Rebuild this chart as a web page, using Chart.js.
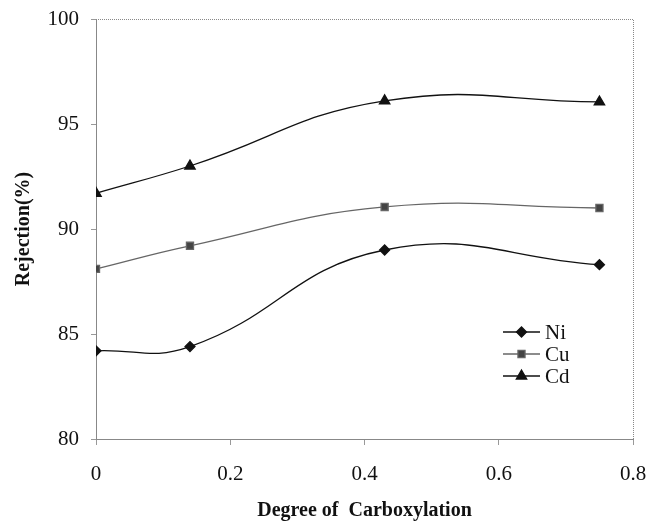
<!DOCTYPE html>
<html>
<head>
<meta charset="utf-8">
<script src="https://cdn.jsdelivr.net/npm/chart.js@4/dist/chart.umd.min.js"></script>
<style>
  html, body { margin: 0; padding: 0; background: #fff; }
  #wrap { width: 650px; height: 523px; }
</style>
</head>
<body>
<div id="wrap"><canvas id="chart" width="650" height="523"></canvas></div>
<script>
const carboxylation = [0, 0.14, 0.43, 0.75];
const niValues = [84.2, 84.4, 89.0, 88.3];
const cuValues = [88.1, 89.2, 91.05, 91.0];
const cdValues = [91.7, 93.0, 96.1, 96.05];
const xTicks = [0, 0.2, 0.4, 0.6, 0.8];
const yTicks = [80, 85, 90, 95, 100];

const serif = '"Liberation Serif", "Times New Roman", serif';

function toPoints(values) {
    return carboxylation.map((x, i) => ({ x: x, y: values[i] }));
}

// dotted frame round the plot + legend inside the plot area
const framePlugin = {
    id: 'frame',
    afterDraw(chart) {
        const ctx = chart.ctx;
        const a = chart.chartArea;
        ctx.save();
        ctx.strokeStyle = '#888';
        ctx.lineWidth = 1;
        ctx.setLineDash([1, 1]);
        ctx.beginPath();
        ctx.moveTo(a.left, a.top + 0.5);
        ctx.lineTo(a.right + 0.5, a.top + 0.5);
        ctx.lineTo(a.right + 0.5, a.bottom);
        ctx.stroke();
        ctx.restore();

        // legend
        const lx = 503, ly = 332, gap = 22;
        chart.data.datasets.forEach((ds, i) => {
            const y = ly + i * gap;
            ctx.save();
            ctx.strokeStyle = ds.borderColor;
            ctx.fillStyle = ds.backgroundColor;
            ctx.lineWidth = 1.3;
            ctx.beginPath();
            ctx.moveTo(lx, y);
            ctx.lineTo(lx + 37, y);
            ctx.stroke();
            Chart.helpers.drawPoint(ctx, {
                pointStyle: ds.pointStyle,
                radius: ds.pointRadius,
                rotation: 0,
                borderWidth: 1
            }, lx + 18.5, y);
            ctx.fillStyle = '#111';
            ctx.font = '21px ' + serif;
            ctx.textBaseline = 'middle';
            ctx.fillText(ds.label, lx + 42, y + 1);
            ctx.restore();
        });
    }
};

const ctx = document.getElementById('chart').getContext('2d');

new Chart(ctx, {
    type: 'scatter',
    data: {
        datasets: [
            {
                label: 'Ni',
                data: toPoints(niValues),
                showLine: true,
                borderColor: '#111',
                backgroundColor: '#111',
                borderWidth: 1.3,
                pointStyle: 'rectRot',
                pointRadius: 5,
                tension: 0.45
            },
            {
                label: 'Cu',
                data: toPoints(cuValues),
                showLine: true,
                borderColor: '#666',
                backgroundColor: '#444',
                borderWidth: 1.3,
                pointStyle: 'rect',
                pointRadius: 5,
                tension: 0.45
            },
            {
                label: 'Cd',
                data: toPoints(cdValues),
                showLine: true,
                borderColor: '#111',
                backgroundColor: '#111',
                borderWidth: 1.3,
                pointStyle: 'triangle',
                pointRadius: 6,
                tension: 0.45
            }
        ]
    },
    options: {
        responsive: false,
        animation: false,
        layout: { padding: { top: 19, right: 17, left: 0, bottom: 0 } },
        plugins: {
            legend: { display: false },
            tooltip: { enabled: false }
        },
        scales: {
            x: {
                type: 'linear',
                min: 0,
                max: 0.8,
                afterBuildTicks: (scale) => { scale.ticks = xTicks.map(v => ({ value: v })); },
                afterFit: (scale) => {
                    scale.height = 84;
                    scale.paddingLeft = 0;
                    scale.paddingRight = 0;
                },
                grid: { display: true, drawOnChartArea: false, drawTicks: true, tickLength: 6, color: '#999' },
                border: { color: '#888', dash: [1, 1], width: 1 },
                ticks: {
                    color: '#111',
                    font: { family: serif, size: 21 },
                    padding: 17,
                    maxRotation: 0,
                    callback: (v) => String(v)
                },
                title: {
                    display: true,
                    text: 'Degree of  Carboxylation',
                    color: '#111',
                    font: { family: serif, size: 20, weight: 'bold' },
                    padding: { top: 10, bottom: 0 }
                }
            },
            y: {
                type: 'linear',
                min: 80,
                max: 100,
                afterBuildTicks: (scale) => { scale.ticks = yTicks.map(v => ({ value: v })); },
                afterFit: (scale) => {
                    scale.width = 96;
                    scale.paddingTop = 0;
                    scale.paddingBottom = 0;
                },
                grid: { display: true, drawOnChartArea: false, drawTicks: true, tickLength: 5, color: '#999' },
                border: { color: '#888', dash: [1, 1], width: 1 },
                ticks: {
                    color: '#111',
                    font: { family: serif, size: 21 },
                    padding: 12
                },
                title: {
                    display: true,
                    text: 'Rejection(%)',
                    color: '#111',
                    font: { family: serif, size: 20, weight: 'bold' },
                    padding: { top: 12, bottom: 10 }
                }
            }
        }
    },
    plugins: [framePlugin]
});
</script>
</body>
</html>
